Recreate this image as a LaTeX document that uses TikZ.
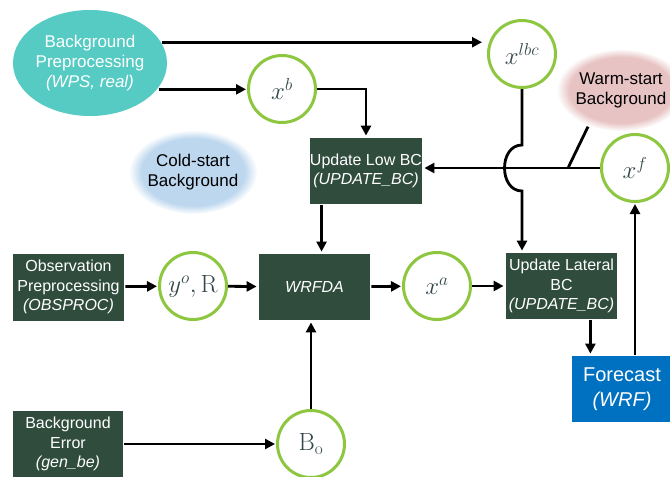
\documentclass[tikz,border=0pt]{standalone}
\usepackage[no-math]{fontspec}
\setmainfont{Liberation Sans}
\usetikzlibrary{shapes.geometric,arrows.meta,fadings}
\definecolor{boxgreen}{HTML}{2F4C3D}
\definecolor{ringgreen}{HTML}{8DC63F}
\definecolor{mathgrey}{HTML}{33474A}
\definecolor{prepteal}{HTML}{55CBC3}
\definecolor{coldblue}{HTML}{BDD7EE}
\definecolor{warmpink}{HTML}{E8C3C3}
\definecolor{fcstblue}{HTML}{0070C0}
\begin{document}
\begin{tikzpicture}[x=1pt,y=-1pt,shorten >=1pt,line width=2.8pt,>={Triangle[length=10pt,width=10pt]},
state node/.style={circle,draw=ringgreen,line width=3pt,fill=white,minimum size=67pt,inner sep=0pt,text=mathgrey,font=\fontsize{25}{28}\selectfont},
task node/.style={rectangle,fill=boxgreen,text=white,align=center,inner sep=0pt,font=\fontsize{16}{19.5}\selectfont},
cloud node/.style={ellipse,align=center,inner sep=0pt,font=\fontsize{17}{20}\selectfont}]
\useasboundingbox (0,0) rectangle (670,477);
\begin{scope}
\node[cloud node,fill=prepteal,text=white,minimum width=154pt,minimum height=106pt] (bgpre) at (90,63) {Background\\Preprocessing\\\textit{(WPS, real)}};
\node[cloud node,fill=coldblue,path fading=circle with fuzzy edge 20 percent,minimum width=124pt,minimum height=84pt] (coldbg) at (193,172) {Cold-start\\Background};
\node[cloud node,fill=warmpink,path fading=circle with fuzzy edge 20 percent,minimum width=124pt,minimum height=82pt] (warmbg) at (621,90) {Warm-start\\Background};
\node[state node] (xlbc) at (522,54) {$x^{lbc}$};
\node[state node] (xb) at (282,89) {$x^{b}$};
\node[state node] (xf) at (635,168) {$x^{f}$};
\node[state node,font=\fontsize{26}{28}\selectfont] (yor) at (193,286) {$y^{o}, \mathrm{R}$};
\node[state node] (xa) at (437,286) {$x^{a}$};
\node[state node,font=\fontsize{26}{28}\selectfont] (bo) at (311,444) {$\mathrm{B}_{\mathrm{o}}$};
\node[task node,minimum width=112pt,minimum height=66pt] (lowbc) at (366,171) {Update Low BC\\\textit{(UPDATE\_BC)}};
\node[task node,minimum width=111pt,minimum height=66pt] (wrfda) at (314.5,287) {\textit{WRFDA}};
\node[task node,minimum width=111pt,minimum height=67pt] (obspre) at (68.5,287) {Observation\\Preprocessing\\\textit{(OBSPROC)}};
\node[task node,minimum width=110pt,minimum height=66pt] (bgerr) at (68,444) {Background\\Error\\\textit{(gen\_be)}};
\node[task node,minimum width=111pt,minimum height=66pt] (lateral) at (561.5,286) {Update Lateral\\BC\\\textit{(UPDATE\_BC)}};
\node[task node,fill=fcstblue,minimum width=100pt,minimum height=66pt,font=\fontsize{20}{25}\selectfont] (fcst) at (622,389) {Forecast\\\textit{(WRF)}};
\coordinate (wjoin) at (568,168);
\end{scope}
\begin{scope}
\draw[->,shorten >=5pt] (bgpre.16) -- (bgpre.16 -| xlbc.west);
\draw[->] (bgpre.-21) -- (bgpre.-21 -| xb.west);
\draw[->] (xb.east) -| (lowbc.north);
\draw[->] (xlbc.south) -- ++(0,56) to[out=180,in=180,looseness=1.3] ++(0,46) -- (xlbc.south |- lateral.north);
\draw[->] (xf.west) -- (xf.west -| lowbc.east);
\draw (warmbg.228) -- (wjoin);
\draw[->] ([xshift=13pt]lowbc.south west) -- ([xshift=13pt]lowbc.south west |- wrfda.north);
\draw[->] (obspre) -- (yor);
\draw[->] (yor) -- (wrfda);
\draw[->] (wrfda) -- (xa);
\draw[->] (xa) -- (lateral);
\draw[->] (bgerr) -- (bo);
\draw[->] (bo.north) -- (bo.north |- wrfda.south);
\draw[->] ([xshift=-28pt]lateral.south east) -- ([xshift=-28pt]lateral.south east |- fcst.north);
\draw[->] (xf.south |- fcst.north) -- (xf.south);
\end{scope}
\end{tikzpicture}
\end{document}
